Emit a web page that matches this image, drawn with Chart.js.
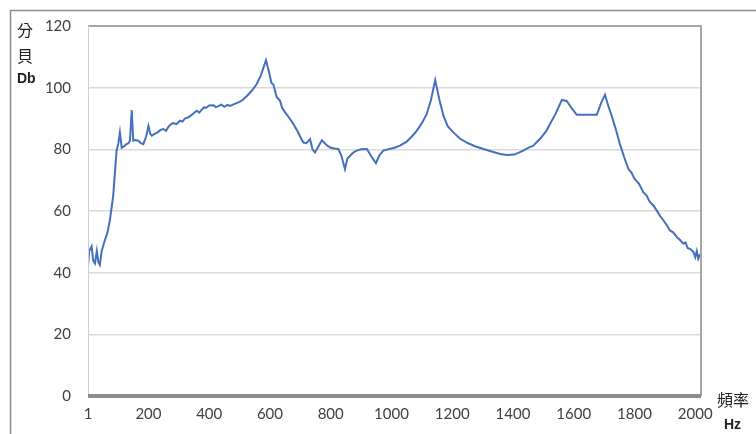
<!DOCTYPE html>
<html>
<head>
<meta charset="utf-8">
<script src="https://cdn.jsdelivr.net/npm/chart.js@4"></script>
<style>
  html, body { margin: 0; padding: 0; background: #fff; }
  #wrap { position: relative; width: 756px; height: 434px; }
</style>
</head>
<body>
<div id="wrap"><canvas id="spectrum-chart" width="756" height="434"></canvas></div>
<script>
// frequency (Hz) of each sample
const freqs = [1, 5, 13, 18, 24, 30, 35, 40, 46, 55, 65, 73, 84, 95, 101, 106, 112, 120, 128, 134,
  139, 145, 150, 156, 167, 175, 183, 192, 200, 206, 211, 220, 230, 240, 249, 258, 265, 272, 280, 292, 304,
  312, 320, 330, 340, 350, 359, 367, 375, 383, 390, 400, 414, 422, 430, 440, 450, 460, 469, 480, 490, 500,
  510, 524, 540, 556, 570, 587, 597, 605, 611, 622, 633, 640, 650, 665, 677,
  690, 700, 710, 720, 732, 740, 748, 760, 771, 785, 798, 812, 825, 835, 847, 855, 864, 875, 886, 900,
  919, 935, 949, 960, 973, 990, 1010, 1028, 1050, 1070, 1083, 1100, 1116, 1130, 1144, 1158, 1171, 1185,
  1204, 1225, 1248, 1275, 1303, 1330, 1358, 1380, 1405, 1434, 1450, 1467, 1490, 1510, 1522, 1540, 1561,
  1577, 1592, 1610, 1640, 1676, 1690, 1703, 1714, 1725, 1740, 1752, 1766, 1780, 1790, 1800, 1815, 1829,
  1840, 1850, 1862, 1873, 1885, 1895, 1905, 1917, 1928, 1940, 1950, 1961, 1968, 1975, 1985, 1994, 2000,
  2005, 2010, 2016];

// level in dB at each frequency
const dbValues = [42, 47, 48.5, 44, 43, 47, 43.4, 42.5, 47, 50, 53, 57, 65, 79.5, 82, 85.5, 80.5, 81, 81.7, 82,
  82.8, 92.7, 82.8, 83, 82.8, 82, 81.7, 84, 87.6, 85, 84.4, 85, 85.5, 86.3, 86.6, 86, 87.2, 88, 88.5, 88.2, 89.3,
  89, 90, 90.3, 91, 91.8, 92.5, 91.9, 92.8, 93.6, 93.5, 94.2, 94.3, 93.7, 94, 94.5, 93.8, 94.4, 94.1, 94.6, 95, 95.4,
  96, 97.3, 99, 101.1, 104, 108.9, 105, 101.5, 101.1, 97, 95.8, 93.5, 92, 90, 88.2,
  86, 84, 82.2, 82, 83.3, 80, 79, 81, 83, 81.5, 80.6, 80.3, 80.1, 78, 73.6, 77, 77.9, 79, 79.6, 80,
  80.1, 77.5, 75.5, 78, 79.6, 80, 80.5, 81.2, 82.5, 84.5, 86, 88.5, 91.4, 96, 102.5, 96, 90.9, 87.5,
  85.5, 83.5, 82.2, 81, 80.1, 79.3, 78.5, 78.2, 78.3, 79.6, 80.5, 81.2, 83.5, 86, 88.2, 91.5, 96,
  95.7, 93.5, 91.2, 91.2, 91.2, 95, 97.7, 94, 90.9, 86, 81.7, 77.5, 73.6, 72.5, 70.5, 68.8, 66.1,
  65, 63, 61.8, 60.2, 58.3, 57, 55.6, 53.7, 53, 51.5, 50.6, 49.4, 49.8, 48, 47.6, 46.7, 45,
  47, 44.5, 46];

const xTicks = [1, 200, 400, 600, 800, 1000, 1200, 1400, 1600, 1800, 2000];
const yTicks = [0, 20, 40, 60, 80, 100, 120];

// frame + axis titles drawn straight on the canvas
const framePlugin = {
  id: 'frame',
  afterDraw(chart) {
    const ctx = chart.ctx;
    const a = chart.chartArea;
    ctx.save();
    // outer border
    ctx.strokeStyle = '#8c8c8c';
    ctx.lineWidth = 1.5;
    ctx.beginPath();
    ctx.moveTo(10.5, 434);
    ctx.lineTo(10.5, 10.5);
    ctx.lineTo(756, 10.5);
    ctx.stroke();
    // plot frame (top + right)
    ctx.strokeStyle = '#a6a6a6';
    ctx.lineWidth = 2;
    ctx.beginPath();
    ctx.moveTo(a.left, a.top);
    ctx.lineTo(a.right, a.top);
    ctx.lineTo(a.right, a.bottom);
    ctx.stroke();
    // left frame
    ctx.strokeStyle = '#d0d0d0';
    ctx.lineWidth = 1;
    ctx.beginPath();
    ctx.moveTo(a.left + 0.5, a.top);
    ctx.lineTo(a.left + 0.5, a.bottom);
    ctx.stroke();
    // x axis line
    ctx.strokeStyle = '#8c8c8c';
    ctx.lineWidth = 4;
    ctx.beginPath();
    ctx.moveTo(a.left, a.bottom);
    ctx.lineTo(a.right, a.bottom);
    ctx.stroke();

    ctx.fillStyle = '#222';
    ctx.textBaseline = 'middle';
    ctx.textAlign = 'left';
    ctx.font = '16px "Noto Sans CJK TC"';
    ctx.fillText('分', 17, 30);
    ctx.fillText('貝', 17, 56);
    ctx.font = 'bold 14px "Liberation Sans"';
    ctx.fillText('Db', 17, 79);
    ctx.font = '16px "Noto Sans CJK TC"';
    ctx.fillText('頻率', 717, 400);
    ctx.font = 'bold 14px "Liberation Sans"';
    ctx.fillText('Hz', 724, 425);
    ctx.restore();
  }
};

const ctx = document.getElementById('spectrum-chart').getContext('2d');
new Chart(ctx, {
  type: 'line',
  data: {
    datasets: [{
      data: freqs.map((f, i) => ({ x: f, y: dbValues[i] })),
      borderColor: '#4470bd',
      borderWidth: 2,
      pointRadius: 0,
      tension: 0,
      fill: false
    }]
  },
  options: {
    responsive: false,
    animation: false,
    layout: { padding: { left: 0, top: 25, right: 55, bottom: 0 } },
    plugins: {
      legend: { display: false },
      tooltip: { enabled: false }
    },
    scales: {
      x: {
        type: 'linear',
        min: 1,
        max: 2019,
        afterBuildTicks: axis => { axis.ticks = xTicks.map(v => ({ value: v })); },
        afterFit: s => { s.height = 38; },
        grid: { display: false, drawTicks: false },
        border: { display: false },
        ticks: {
          autoSkip: false,
          maxRotation: 0,
          padding: 9,
          color: '#404040',
          font: { family: 'Lato', size: 15 },
          callback: v => String(v)
        }
      },
      y: {
        min: 0,
        max: 120,
        afterBuildTicks: axis => { axis.ticks = yTicks.map(v => ({ value: v })); },
        afterFit: s => { s.width = 88; },
        grid: { color: '#d9d9d9', lineWidth: 1.5, drawTicks: false },
        border: { display: false },
        ticks: {
          padding: 17,
          color: '#404040',
          font: { family: 'Lato', size: 15 },
          callback: v => String(v)
        }
      }
    }
  },
  plugins: [framePlugin]
});
</script>
</body>
</html>
